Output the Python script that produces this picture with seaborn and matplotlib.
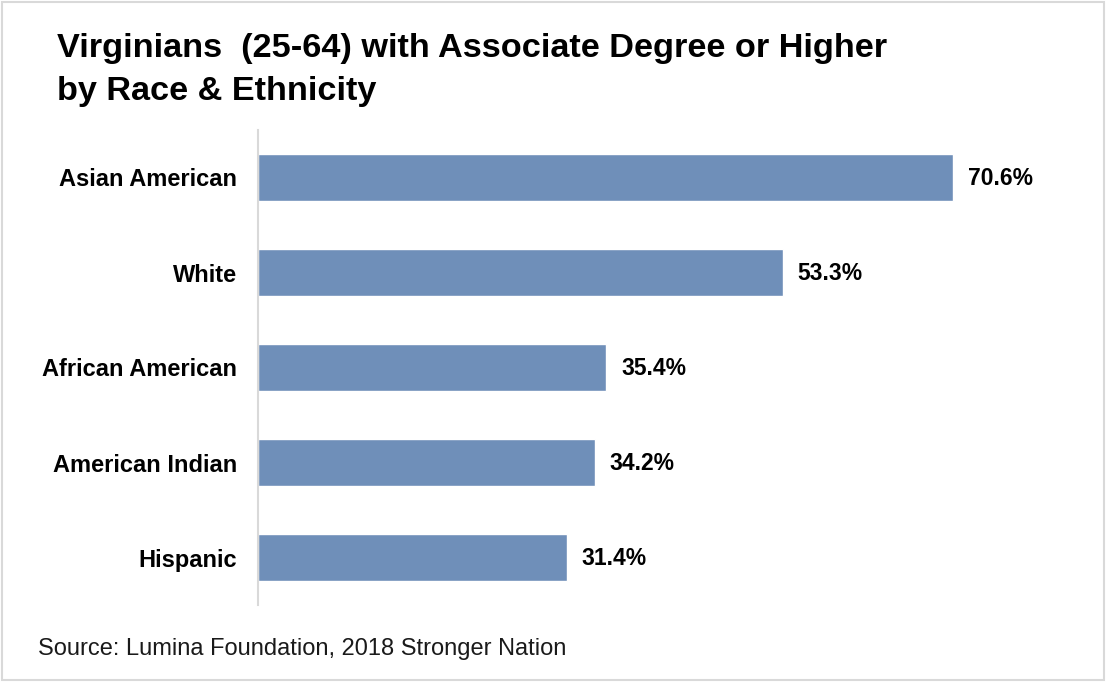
import matplotlib
matplotlib.use("Agg")
import matplotlib.pyplot as plt
import seaborn as sns
import pandas as pd
from matplotlib.patches import Rectangle

groups = ["Asian American", "White", "African American", "American Indian", "Hispanic"]
shares = [70.6, 53.3, 35.4, 34.2, 31.4]
value_labels = ["70.6%", "53.3%", "35.4%", "34.2%", "31.4%"]
title_lines = ["Virginians  (25-64) with Associate Degree or Higher", "by Race & Ethnicity"]
source = "Source: Lumina Foundation, 2018 Stronger Nation"

df = pd.DataFrame({"Group": groups, "Share": shares})

sns.set_style("white")
plt.rcParams["font.family"] = ["Liberation Sans", "DejaVu Sans"]

fig = plt.figure(figsize=(11.06, 6.82), dpi=100)
ax = fig.add_axes([258 / 1106, 1 - 605 / 682, (1080 - 258) / 1106, 475 / 682])

sns.barplot(data=df, x="Share", y="Group", color="#6f8fb9", saturation=1,
            width=0.49, ax=ax)
ax.set_xlim(0, 822 / 9.844)
ax.set_ylim(4.5, -0.5)

for i, (v, lab) in enumerate(zip(shares, value_labels)):
    ax.text(v + 1.5, i + 0.01, lab, va="center", ha="left", fontsize=16.5,
            fontweight="bold", color="black")

ax.set_xlabel("")
ax.set_ylabel("")
ax.set_xticks([])
ax.tick_params(axis="y", length=0, pad=15)
for t in ax.get_yticklabels():
    t.set_fontsize(17)
    t.set_fontweight("bold")
    t.set_color("black")

for s in ["top", "right", "bottom"]:
    ax.spines[s].set_visible(False)
ax.spines["left"].set_color("#d9d9d9")
ax.spines["left"].set_linewidth(1.5)

fig.text(57 / 1106, 1 - 57 / 682, title_lines[0], fontsize=24.7, fontweight="bold",
         ha="left", va="baseline", color="black")
fig.text(57 / 1106, 1 - 100 / 682, title_lines[1], fontsize=24.7, fontweight="bold",
         ha="left", va="baseline", color="black")
fig.text(38 / 1106, 1 - 655 / 682, source, fontsize=17,
         ha="left", va="baseline", color="#1a1a1a")

fig.patches.append(Rectangle((0.002, 0.003), 0.996, 0.994, transform=fig.transFigure,
                             fill=False, edgecolor="#d9d9d9", linewidth=1.5))

fig.savefig("out.png", dpi=100)
